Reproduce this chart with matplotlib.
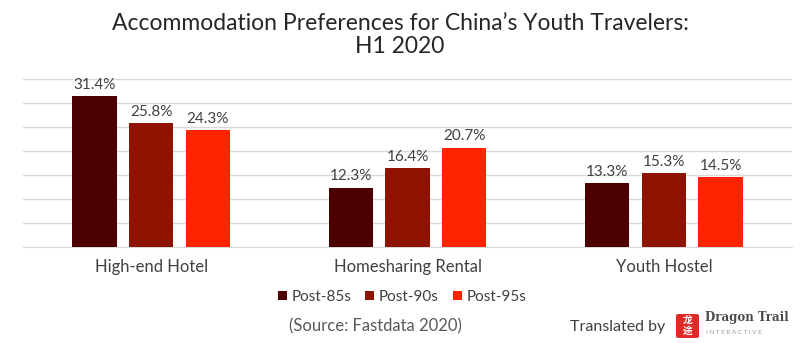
import matplotlib
matplotlib.use("Agg")
import matplotlib.pyplot as plt
from matplotlib.patches import FancyBboxPatch
import numpy as np

plt.rcParams['font.family'] = ['Lato', 'DejaVu Sans']

categories = ["High-end Hotel", "Homesharing Rental", "Youth Hostel"]
series_names = ["Post-85s", "Post-90s", "Post-95s"]
post85 = [31.4, 12.3, 13.3]
post90 = [25.8, 16.4, 15.3]
post95 = [24.3, 20.7, 14.5]
colors = ["#4C0000", "#8E1300", "#FF2400"]

title = "Accommodation Preferences for China\u2019s Youth Travelers:\nH1 2020"
source = "(Source: Fastdata 2020)"

fig = plt.figure(figsize=(8, 3.43), dpi=100)
ax = fig.add_axes([23 / 800, 96.3 / 343, 769 / 800, 167.7 / 343])

x = np.arange(len(categories))
width = 0.172
step = 0.221
text_color = "#404040"
for i, (vals, name, c) in enumerate(zip([post85, post90, post95], series_names, colors)):
    pos = x + (i - 1) * step
    bars = ax.bar(pos, vals, width=width, color=c, label=name, zorder=3)
    for b, v in zip(bars, vals):
        ax.text(b.get_x() + b.get_width() / 2, v + 0.9, f"{v:.1f}%",
                ha="center", va="bottom", fontsize=11, color=text_color)

ax.set_xlim(-0.5, 2.5)
ax.set_ylim(0, 35)
ax.set_yticks(np.arange(0, 36, 5))
ax.yaxis.grid(True, color="#D9D9D9", linewidth=1, zorder=0)
ax.set_yticklabels([])
ax.tick_params(axis="y", length=0)
ax.tick_params(axis="x", length=0, pad=9, labelsize=12, labelcolor=text_color)
ax.set_xticks(x)
ax.set_xticklabels(categories)
for s in ["top", "right", "left"]:
    ax.spines[s].set_visible(False)
ax.spines["bottom"].set_color("#D9D9D9")

fig.text(0.5, 1 - 35 / 343, title, ha="center", va="center", fontsize=16.5,
         color="#262626", linespacing=1.1)

leg = fig.legend(loc="center", bbox_to_anchor=(402 / 800, 1 - 297 / 343), ncol=3,
                 frameon=False, fontsize=11, handlelength=0.6, handleheight=0.6,
                 handletextpad=0.3, columnspacing=0.9)
for t in leg.get_texts():
    t.set_color(text_color)

fig.text(375 / 800, 1 - 326 / 343, source, ha="center", va="center", fontsize=12,
         color="#595959")
fig.text(665 / 800, 1 - 327 / 343, "Translated by", ha="right", va="center",
         fontsize=11.5, color="#404040")

logo = FancyBboxPatch((676 / 800, 1 - 338 / 343), 23 / 800, 24 / 343,
                      boxstyle="round,pad=0,rounding_size=0.004",
                      transform=fig.transFigure, facecolor="#E02A2A", edgecolor="none")
fig.patches.append(logo)
fig.text(687.5 / 800, 1 - 320 / 343, "龙", ha="center", va="center", fontsize=7,
         color="white", family=["Noto Sans CJK SC"], fontweight="bold")
fig.text(687.5 / 800, 1 - 331 / 343, "途", ha="center", va="center", fontsize=7,
         color="white", family=["Noto Sans CJK SC"], fontweight="bold")
fig.text(705 / 800, 1 - 318 / 343, "Dragon Trail", ha="left", va="center",
         fontsize=8.5, color="#4a4a4a", family=["DejaVu Serif"], fontweight="bold")
fig.text(706 / 800, 1 - 332 / 343, "I N T E R A C T I V E", ha="left", va="center",
         fontsize=4.5, color="#9a9a9a")

fig.savefig("out.png", dpi=100, facecolor="white")
